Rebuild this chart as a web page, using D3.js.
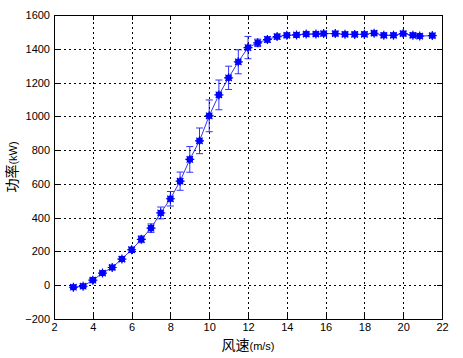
<!DOCTYPE html>
<html>
<head>
<meta charset="utf-8">
<script src="https://cdn.jsdelivr.net/npm/d3@7"></script>
<style>
  body { margin: 0; background: #fff; }
  svg { display: block; font-family: Arial, "Liberation Sans", sans-serif; }
</style>
</head>
<body>
<div id="chart"></div>
<script>
const windSpeed = [3, 3.5, 4, 4.5, 5, 5.5, 6, 6.5, 7, 7.5, 8, 8.5, 9, 9.5, 10,
  10.5, 11, 11.5, 12, 12.5, 13, 13.5, 14, 14.5, 15, 15.5, 15.9, 16.5, 17, 17.5,
  18, 18.5, 19, 19.5, 20, 20.5, 20.85, 21.5]
const power = [-12, -6, 30, 72, 105, 155, 210, 272, 338, 428, 512, 616, 745, 855, 1003,
  1127, 1228, 1323, 1407, 1435, 1455, 1472, 1480, 1482, 1487, 1487, 1490, 1490, 1486, 1485,
  1486, 1492, 1480, 1480, 1490, 1480, 1475, 1478]
const errBar = [8, 8, 10, 10, 12, 14, 16, 20, 25, 35, 43, 54, 76, 76, 94,
  88, 69, 71, 66, 22, 17, 14, 12, 11, 11, 11, 11, 12, 12, 12,
  12, 12, 12, 12, 12, 12, 12, 11]

const xTicks = [2, 4, 6, 8, 10, 12, 14, 16, 18, 20, 22]
const yTicks = [-200, 0, 200, 400, 600, 800, 1000, 1200, 1400, 1600]

const w = 463
const h = 358
const margin = { top: 15, right: 21, bottom: 39, left: 54 }

const svg = d3.select('#chart')
  .append('svg')
  .attr('width', w)
  .attr('height', h)

const xScale = d3.scaleLinear()
  .domain([2, 22])
  .range([margin.left, w - margin.right])

const yScale = d3.scaleLinear()
  .domain([-200, 1600])
  .range([h - margin.bottom, margin.top])

// grid
const grid = svg.append('g')
  .attr('stroke', '#000')
  .attr('stroke-width', 1)
  .attr('stroke-dasharray', '2,3')
  .attr('shape-rendering', 'crispEdges')

grid.selectAll('.gx')
  .data(xTicks.slice(1, -1))
  .enter()
  .append('line')
  .attr('x1', d => Math.round(xScale(d)) + 0.5)
  .attr('x2', d => Math.round(xScale(d)) + 0.5)
  .attr('y1', yScale(-200))
  .attr('y2', yScale(1600))

grid.selectAll('.gy')
  .data(yTicks.slice(1, -1))
  .enter()
  .append('line')
  .attr('y1', d => Math.round(yScale(d)) + 0.5)
  .attr('y2', d => Math.round(yScale(d)) + 0.5)
  .attr('x1', xScale(2))
  .attr('x2', xScale(22))

// axes with inward ticks
const xAxis = d3.axisBottom(xScale).tickValues(xTicks).tickSize(-5).tickPadding(4)
  .tickFormat(d3.format('d'))
const yAxis = d3.axisLeft(yScale).tickValues(yTicks).tickSize(-5).tickPadding(4)
  .tickFormat(d3.format('d'))
const xAxisTop = d3.axisTop(xScale).tickValues(xTicks).tickSize(-5).tickFormat('')
const yAxisRight = d3.axisRight(yScale).tickValues(yTicks).tickSize(-5).tickFormat('')

function styleAxis(g) {
  g.select('.domain').remove()
  g.selectAll('line').attr('stroke', '#000').attr('shape-rendering', 'crispEdges')
  g.selectAll('text').attr('fill', '#000').attr('font-size', 11)
}

svg.append('g')
  .attr('transform', 'translate(0,' + yScale(-200) + ')')
  .call(xAxis)
  .call(styleAxis)

svg.append('g')
  .attr('transform', 'translate(0,' + yScale(1600) + ')')
  .call(xAxisTop)
  .call(styleAxis)

svg.append('g')
  .attr('transform', 'translate(' + xScale(2) + ',0)')
  .call(yAxis)
  .call(styleAxis)

svg.append('g')
  .attr('transform', 'translate(' + xScale(22) + ',0)')
  .call(yAxisRight)
  .call(styleAxis)

svg.append('rect')
  .attr('x', xScale(2) + 0.5)
  .attr('y', yScale(1600) + 0.5)
  .attr('width', xScale(22) - xScale(2))
  .attr('height', yScale(-200) - yScale(1600))
  .attr('fill', 'none')
  .attr('stroke', '#000')
  .attr('shape-rendering', 'crispEdges')

const dataset = windSpeed.map((d, i) => ({ x: d, y: power[i], e: errBar[i] }))
const blue = '#0000ff'

// error bars
const bars = svg.append('g')
  .attr('stroke', blue)
  .attr('stroke-width', 1)
  .attr('opacity', 0.8)

bars.selectAll('g')
  .data(dataset)
  .enter()
  .append('path')
  .attr('fill', 'none')
  .attr('d', d => {
    const cx = xScale(d.x)
    const y0 = yScale(d.y - d.e)
    const y1 = yScale(d.y + d.e)
    return `M${cx},${y0}V${y1}M${cx - 3.5},${y0}H${cx + 3.5}M${cx - 3.5},${y1}H${cx + 3.5}`
  })

// line
const line = d3.line()
  .x(d => xScale(d.x))
  .y(d => yScale(d.y))

svg.append('path')
  .datum(dataset)
  .attr('fill', 'none')
  .attr('stroke', blue)
  .attr('stroke-width', 1)
  .attr('opacity', 0.8)
  .attr('d', line)

// markers
const marks = svg.append('g')
  .selectAll('g')
  .data(dataset)
  .enter()
  .append('g')
  .attr('transform', d => 'translate(' + xScale(d.x) + ',' + yScale(d.y) + ')')

marks.append('circle')
  .attr('r', 3.3)
  .attr('fill', blue)

marks.append('path')
  .attr('d', 'M-4.5,0H4.5M0,-4.5V4.5M-3.2,-3.2L3.2,3.2M-3.2,3.2L3.2,-3.2')
  .attr('stroke', blue)
  .attr('stroke-width', 1.2)

// axis labels
svg.append('text')
  .attr('x', (xScale(2) + xScale(22)) / 2)
  .attr('y', 350)
  .attr('text-anchor', 'middle')
  .attr('fill', '#000')
  .call(t => {
    t.append('tspan').attr('font-family', '"Noto Sans CJK SC"').attr('font-size', 14).text('风速')
    t.append('tspan').attr('font-size', 11).text('(m/s)')
  })

svg.append('text')
  .attr('transform', 'translate(17,' + ((yScale(-200) + yScale(1600)) / 2) + ') rotate(-90)')
  .attr('text-anchor', 'middle')
  .attr('fill', '#000')
  .call(t => {
    t.append('tspan').attr('font-family', '"Noto Sans CJK SC"').attr('font-size', 14).text('功率')
    t.append('tspan').attr('font-size', 11).text('(kW)')
  })
</script>
</body>
</html>
